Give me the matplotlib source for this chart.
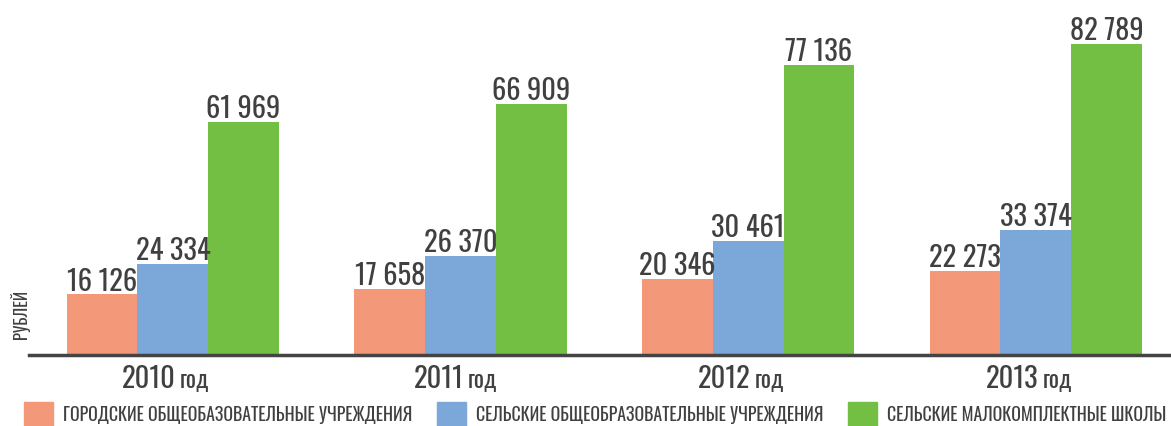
import numpy as np
import matplotlib.pyplot as plt
from matplotlib import font_manager as fm
from matplotlib.patches import Patch

years = ["2010", "2011", "2012", "2013"]
series = [
    "ГОРОДСКИЕ ОБЩЕОБАЗОВАТЕЛЬНЫЕ УЧРЕЖДЕНИЯ",
    "СЕЛЬСКИЕ ОБЩЕОБРАЗОВАТЕЛЬНЫЕ УЧРЕЖДЕНИЯ",
    "СЕЛЬСКИЕ МАЛОКОМПЛЕКТНЫЕ ШКОЛЫ",
]
city = [16126, 17658, 20346, 22273]
rural = [24334, 26370, 30461, 33374]
small = [61969, 66909, 77136, 82789]
colors = ["#F4987A", "#7BA7D9", "#72BF44"]

# pick a condensed family that is actually installed
installed = {f.name for f in fm.fontManager.ttflist}
wanted = ["Oswald", "Fira Sans Extra Condensed", "Roboto Condensed", "PT Sans Narrow",
          "IBM Plex Sans Condensed"]
cond = [n for n in wanted if n in installed][:1]
plt.rcParams["font.family"] = cond + ["DejaVu Sans"]
plt.rcParams["font.weight"] = 300
TXT = "#404040"

fig = plt.figure(figsize=(11.71, 4.27), dpi=100)
ax = fig.add_axes([29 / 1171, 1 - 356 / 427, 1 - 29 / 1171, (356 - 18) / 427])

x = np.arange(len(years))
w = 0.246
for i, (vals, c) in enumerate(zip([city, rural, small], colors)):
    bars = ax.bar(x + (i - 1) * w, vals, w, color=c, zorder=2)
    for b, v in zip(bars, vals):
        ax.annotate(f"{v:,}".replace(",", " "), (b.get_x() + b.get_width() / 2, v),
                    xytext=(0, 3.5), textcoords="offset points",
                    ha="center", va="baseline", fontsize=20.5, color=TXT)

ax.set_xlim(-0.5, 3.47)
ax.set_ylim(0, 90000)
for s in ["top", "right", "left"]:
    ax.spines[s].set_visible(False)
ax.spines["bottom"].set_color("#444444")
ax.spines["bottom"].set_linewidth(2.5)
ax.set_yticks([])
ax.set_xticks([])

for xi, y in zip(x, years):
    ax.annotate(y, (xi, 0), xytext=(2, -23), textcoords="offset points",
                ha="right", va="baseline", fontsize=20.5, color=TXT)
    ax.annotate("год", (xi, 0), xytext=(5, -23), textcoords="offset points",
                ha="left", va="baseline", fontsize=17, color=TXT)

fig.text(20 / 1171, 1 - 314 / 427, "РУБЛЕЙ", rotation=90, ha="center", va="center",
         fontsize=12, color=TXT)

handles = [Patch(color=c) for c in colors]
fig.legend(handles, series, loc="center left", bbox_to_anchor=(24 / 1171, 1 - 415 / 427),
           ncol=3, frameon=False, fontsize=12.8, labelcolor=TXT,
           borderpad=0, borderaxespad=0,
           handlelength=1.63, handleheight=1.63, handletextpad=0.56, columnspacing=1.4)

fig.savefig("out.png", dpi=100)
